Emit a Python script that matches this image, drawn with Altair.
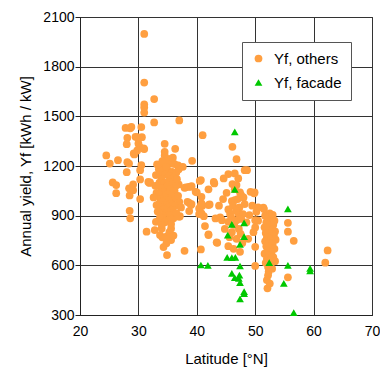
import altair as alt
import pandas as pd

others_lat = [
    31.0, 31.0, 32.7, 31.0, 31.0, 31.0, 32.7, 37.0,
    27.8, 28.6, 28.8, 30.5, 41.0, 28.1, 29.8, 30.6, 29.5,
    28.0, 34.5, 30.2, 30.0, 30.9, 31.0, 36.3, 29.8, 29.3, 29.2,
    24.5, 34.5, 34.5, 35.1, 35.5, 26.5, 25.1, 28.1, 28.4, 39.2,
    30.5, 34.0, 34.8, 35.6, 36.2, 36.8, 37.6,
    30.3, 28.0, 25.6, 26.2, 26.2, 29.1, 28.4, 29.1, 28.5, 30.3, 32.0, 30.3,
    28.5, 28.6, 31.4, 33.0, 33.7, 31.7, 31.9,
    34.8, 34.9, 37.9, 40.7, 40.5, 42.0, 43.0, 40.8, 40.9, 42.2, 40.4, 41.2,
    41.4, 42.0, 43.4, 40.0, 39.1, 38.6, 38.7, 39.1, 38.7, 37.1, 37.0, 36.9,
    37.9, 33.0, 33.8, 34.0, 34.1, 35.6, 35.6, 33.1, 33.1,
    40.7, 38.1, 39.0, 39.8, 38.4, 39.0, 40.4, 37.0, 32.8, 33.7, 34.8,
    33.5, 34.2, 35.0, 35.8, 36.5, 34.6, 35.3, 36.0, 34.0, 33.6, 34.4, 35.1,
    35.8, 36.4, 34.8, 33.9, 35.4, 36.2, 34.3, 33.5, 35.0, 35.7, 34.5, 33.8,
    36.1, 35.2, 34.1, 33.6, 35.5, 34.7, 36.3, 33.9, 35.0, 34.4, 35.8, 33.3,
    34.9, 35.4, 34.2, 33.7, 36.0, 35.1, 34.5, 35.6, 34.0, 36.6, 36.8, 37.3,
    36.5, 32.9, 32.6, 33.2, 34.1, 35.9, 34.7, 36.9, 35.3, 34.3, 36.0,
    46.1, 46.8, 42.9, 44.6, 45.4, 46.5, 45.1, 47.1, 46.8, 48.2, 40.8, 40.7,
    42.0, 40.8, 43.2, 44.0, 48.6, 46.1, 47.6, 49.2, 49.9, 46.0, 46.5, 48.2,
    51.4, 52.5, 45.4, 45.7, 47.1, 47.9, 49.0, 50.2, 44.3, 45.4, 46.8, 50.0,
    50.0, 42.0, 43.5, 45.4, 47.4, 50.0, 50.0, 55.6, 55.6, 56.6, 55.6, 62.4, 62.0,
    46.5, 47.0, 46.2, 47.3, 46.7, 45.9, 47.6, 46.4, 47.2, 46.0, 47.5, 46.8,
    45.6, 48.5, 44.8, 47.8, 46.3, 48.0, 47.4, 44.5, 43.8, 49.5, 50.5, 49.7, 48.8,
    51.7, 52.2, 52.8, 53.3, 51.9, 52.5, 53.1, 51.6, 52.3, 52.9, 53.4, 51.8,
    52.6, 53.2, 52.0, 52.7, 53.5, 51.7, 52.4, 53.0, 51.9, 52.6, 53.3, 52.1,
    52.8, 51.6, 52.4, 53.1, 52.0, 52.7, 53.4, 51.8, 52.5, 52.2, 52.9, 52.3,
    52.2, 52.0, 52.1, 52.5, 51.5, 52.0, 53.0, 49.8, 50.5,
]
others_yf = [
    1998, 1704, 1604, 1572, 1553, 1523, 1463, 1475,
    1430, 1428, 1436, 1435, 1386, 1370, 1374, 1374, 1376,
    1332, 1334, 1316, 1336, 1306, 1302, 1304, 1294, 1270, 1276,
    1264, 1286, 1264, 1241, 1241, 1235, 1215, 1223, 1215, 1231,
    1205, 1203, 1208, 1215, 1212, 1204, 1195,
    1175, 1163, 1101, 1085, 1036, 1089, 1065, 1054, 1022, 1119, 1101, 1000,
    929, 884, 803, 1145, 1145, 1104, 1098,
    733, 662, 688, 696, 1110, 1059, 1095, 974, 958, 968, 910, 897,
    837, 787, 739, 1041, 1078, 1074, 978, 970, 928, 897, 984, 1089,
    1068, 863, 873, 823, 769, 823, 753, 1038, 964,
    1115, 1071, 1074, 1044, 984, 964, 944, 893, 813, 783, 773,
    1180, 1170, 1175, 1165, 1160, 1150, 1140, 1130, 1120, 1100, 1095, 1105,
    1090, 1080, 1075, 1065, 1060, 1050, 1045, 1030, 1030, 1020, 1010, 1000,
    1005, 995, 985, 975, 975, 965, 960, 950, 950, 940, 935, 925,
    920, 905, 900, 890, 885, 875, 860, 850, 845, 1120, 1020, 950,
    915, 1080, 1010, 1210, 1230, 1250, 1195, 1180, 800, 710, 780,
    1316, 1241, 1104, 1125, 1151, 1155, 1038, 1125, 1085, 1175, 1014, 964,
    964, 914, 883, 890, 1175, 1091, 1024, 1044, 1040, 988, 994, 970,
    948, 914, 938, 910, 914, 910, 904, 923, 873, 863, 873, 873,
    829, 783, 736, 716, 682, 712, 596, 857, 803, 748, 528, 690, 616,
    1060, 1000, 960, 950, 930, 890, 880, 845, 820, 800, 790, 760,
    770, 860, 820, 735, 700, 1010, 1040, 1000, 960, 960, 870, 800, 760,
    900, 890, 880, 870, 860, 850, 845, 830, 820, 815, 805, 795,
    790, 780, 770, 760, 755, 745, 735, 730, 715, 705, 700, 690,
    680, 670, 660, 650, 640, 630, 625, 615, 605, 590, 580, 561,
    540, 511, 461, 490, 940, 850, 905, 1035, 950,
]

facade_lat = [
    46.5, 46.5, 55.6, 46.0, 48.1, 45.3, 48.1, 47.4, 45.2, 46.0, 46.6,
    40.7, 41.9, 47.4, 52.4, 55.6, 59.4, 59.4, 46.0, 47.3, 46.5, 47.2,
    47.4, 54.9, 48.1, 48.1, 47.4, 56.6,
]
facade_yf = [
    1406, 1059, 941, 847, 857, 783, 773, 727, 648, 646, 648,
    602, 600, 596, 616, 600, 582, 567, 552, 541, 525, 521,
    495, 491, 441, 429, 398, 314,
]

series_names = ["Yf, others", "Yf, facade"]

df = pd.concat([
    pd.DataFrame({"lat": others_lat, "yf": others_yf, "series": series_names[0]}),
    pd.DataFrame({"lat": facade_lat, "yf": facade_yf, "series": series_names[1]}),
], ignore_index=True)

FONT = "Liberation Sans"

chart = alt.Chart(df).mark_point(filled=True, opacity=1, size=60).encode(
    x=alt.X("lat:Q", title="Latitude [°N]",
            scale=alt.Scale(domain=[20, 70], nice=False, zero=False),
            axis=alt.Axis(values=[20, 30, 40, 50, 60, 70], tickSize=0, labelPadding=9,
                          titlePadding=13, format="d", labelFlush=False)),
    y=alt.Y("yf:Q", title="Annual yield, Yf [kWh / kW]",
            scale=alt.Scale(domain=[300, 2100], nice=False, zero=False),
            axis=alt.Axis(values=[300, 600, 900, 1200, 1500, 1800, 2100], tickSize=5,
                          labelPadding=1, titlePadding=9, format="d", labelFlush=False)),
    color=alt.Color("series:N", scale=alt.Scale(domain=series_names, range=["#FF9F40", "#00C800"]),
                    legend=alt.Legend(title=None, orient="none", legendX=162, legendY=25,
                                      fillColor="white", strokeColor="#555555", padding=9,
                                      labelFontSize=15, labelFont=FONT, labelColor="black",
                                      symbolSize=60, rowPadding=8, labelOffset=8)),
    shape=alt.Shape("series:N", scale=alt.Scale(domain=series_names, range=["circle", "triangle-up"])),
    order=alt.Order("series:N", sort="descending"),
).properties(
    width=292, height=298,
    autosize=alt.AutoSizeParams(type="none"),
    padding={"left": 72, "top": 9, "right": 8, "bottom": 53},
).configure_axis(
    grid=True, gridColor="#333333", gridWidth=1, gridOpacity=1,
    domainColor="#222222", tickColor="#222222",
    labelFont=FONT, titleFont=FONT, labelFontSize=14, titleFontSize=15,
    labelColor="black", titleColor="black", titleFontWeight="normal",
).configure_view(stroke="#222222", strokeWidth=1)

chart.save("out.html", embed_options={"renderer": "svg", "actions": False})
